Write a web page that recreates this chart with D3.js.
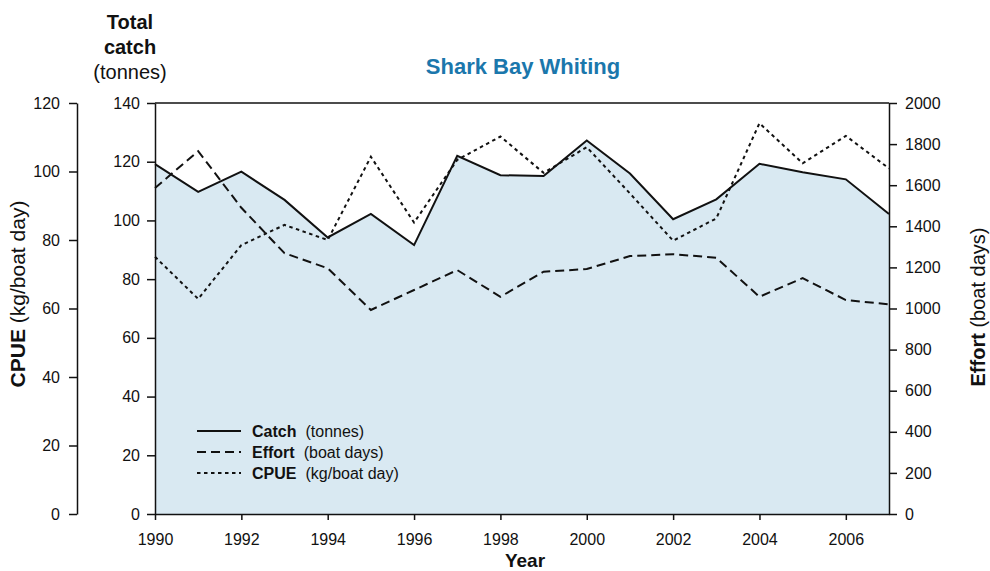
<!DOCTYPE html>
<html>
<head>
<meta charset="utf-8">
<script src="https://cdn.jsdelivr.net/npm/d3@7"></script>
<style>
  body { margin: 0; background: #fff; }
  svg text { font-family: "Liberation Sans", Arial, sans-serif; fill: #111; }
  .axis path, .axis line { stroke: #111; stroke-width: 1.5; }
  .axis text { font-size: 16px; }
  .title { font-family: "Liberation Sans Narrow", "Liberation Sans", sans-serif; font-stretch: condensed; font-weight: bold; font-size: 22px; fill: #1b77ac !important; }
</style>
</head>
<body>
<div id="chart"></div>
<script>
var years = [1990, 1991, 1992, 1993, 1994, 1995, 1996, 1997, 1998, 1999, 2000, 2001, 2002, 2003, 2004, 2005, 2006, 2007];
var catchTonnes = [119.2, 109.7, 116.6, 107, 94.2, 102.2, 91.6, 122, 115.4, 115.1, 127.2, 116, 100.4, 107.2, 119.3, 116.4, 114, 102.2];
var effortDays = [1586, 1766, 1490, 1269, 1196, 993, 1090, 1187, 1057, 1179, 1192, 1255, 1264, 1247, 1057, 1148, 1041, 1020];
var cpue = [75.1, 62.8, 78.5, 84.4, 80.0, 104.3, 85.1, 103.4, 110.2, 99.6, 107.1, 93.6, 79.8, 86.3, 114.1, 102.4, 110.4, 100.9];

var xTicks = [1990, 1992, 1994, 1996, 1998, 2000, 2002, 2004, 2006];
var catchTicks = [0, 20, 40, 60, 80, 100, 120, 140];
var cpueTicks = [0, 20, 40, 60, 80, 100, 120];
var effortTicks = [0, 200, 400, 600, 800, 1000, 1200, 1400, 1600, 1800, 2000];

var legendItems = [
  {name: "Catch", unit: "(tonnes)", dash: null},
  {name: "Effort", unit: "(boat days)", dash: "9,5"},
  {name: "CPUE", unit: "(kg/boat day)", dash: "3.5,3.5"}
];

var margin = {top: 103, right: 101, bottom: 57, left: 155},
  width = 990 - margin.left - margin.right,
  height = 571 - margin.top - margin.bottom;

var data = years.map(function(y, i) {
  return {Year: y, Catch: catchTonnes[i], Effort: effortDays[i], CPUE: cpue[i]};
});

var xScale = d3.scaleLinear().domain([1990, 2007]).range([0, width]);
var yCatch = d3.scaleLinear().domain([0, 140]).range([height, 0]);
var yCpue = d3.scaleLinear().domain([0, 120]).range([height, 0]);
var yEffort = d3.scaleLinear().domain([0, 2000]).range([height, 0]);

var svg = d3.select("#chart").append("svg")
  .attr("width", 990)
  .attr("height", 571);

var g = svg.append("g")
  .attr("transform", "translate(" + margin.left + "," + margin.top + ")");

// area under the catch line
var area = d3.area()
  .x(function(d) { return xScale(d.Year); })
  .y0(height)
  .y1(function(d) { return yCatch(d.Catch); });

g.append("path")
  .datum(data)
  .attr("fill", "#d9e9f2")
  .attr("d", area);

// top border of the frame
g.append("line")
  .attr("x1", 0).attr("x2", width)
  .attr("y1", 0).attr("y2", 0)
  .style("stroke", "#111")
  .style("stroke-width", 1.5);

// x axis
g.append("g")
  .attr("class", "x axis")
  .attr("transform", "translate(0," + height + ")")
  .call(d3.axisBottom(xScale).tickValues(xTicks).tickFormat(d3.format("d")).tickSizeInner(6).tickSizeOuter(0).tickPadding(14));

// catch axis (inner left)
g.append("g")
  .attr("class", "y axis")
  .call(d3.axisLeft(yCatch).tickValues(catchTicks).tickSizeInner(8).tickSizeOuter(0).tickPadding(7));

// effort axis (right)
g.append("g")
  .attr("class", "y axis")
  .attr("transform", "translate(" + width + ",0)")
  .call(d3.axisRight(yEffort).tickValues(effortTicks).tickFormat(d3.format("d")).tickSizeInner(8).tickSizeOuter(0).tickPadding(8));

// cpue axis (outer left)
g.append("g")
  .attr("class", "y axis")
  .attr("transform", "translate(-78,0)")
  .call(d3.axisLeft(yCpue).tickValues(cpueTicks).tickSizeInner(8).tickSizeOuter(0).tickPadding(9));

g.selectAll(".axis .domain").attr("stroke-width", 1.8);

// lines
var catchLine = d3.line()
  .x(function(d) { return xScale(d.Year); })
  .y(function(d) { return yCatch(d.Catch); });

var effortLine = d3.line()
  .x(function(d) { return xScale(d.Year); })
  .y(function(d) { return yEffort(d.Effort); });

var cpueLine = d3.line()
  .x(function(d) { return xScale(d.Year); })
  .y(function(d) { return yCpue(d.CPUE); });

g.append("path")
  .datum(data)
  .attr("fill", "none")
  .attr("stroke", "#111")
  .attr("stroke-width", 2)
  .attr("d", effortLine)
  .attr("stroke-dasharray", "9,5");

g.append("path")
  .datum(data)
  .attr("fill", "none")
  .attr("stroke", "#111")
  .attr("stroke-width", 2)
  .attr("d", cpueLine)
  .attr("stroke-dasharray", "3.5,3.5");

g.append("path")
  .datum(data)
  .attr("fill", "none")
  .attr("stroke", "#111")
  .attr("stroke-width", 2)
  .attr("d", catchLine);

// legend
var legend = g.selectAll(".legend")
  .data(legendItems)
  .enter().append("g")
  .attr("class", "legend")
  .attr("transform", function(d, i) { return "translate(42," + (328 + i * 21) + ")"; });

legend.append("line")
  .attr("x1", 0).attr("x2", 44)
  .attr("y1", 0).attr("y2", 0)
  .attr("stroke", "#111")
  .attr("stroke-width", 2)
  .attr("stroke-dasharray", function(d) { return d.dash; });

var lt = legend.append("text")
  .attr("x", 55)
  .attr("y", 6)
  .style("font-size", "16px");
lt.append("tspan").style("font-weight", "bold").text(function(d) { return d.name; });
lt.append("tspan").attr("dx", 9).text(function(d) { return d.unit; });

// titles
svg.append("text")
  .attr("class", "title")
  .attr("x", 523)
  .attr("y", 74)
  .attr("text-anchor", "middle")
  .text("Shark Bay Whiting");

svg.append("text").attr("x", 130).attr("y", 29).attr("text-anchor", "middle")
  .style("font-size", "20px").style("font-weight", "bold").text("Total");
svg.append("text").attr("x", 130).attr("y", 54).attr("text-anchor", "middle")
  .style("font-size", "20px").style("font-weight", "bold").text("catch");
svg.append("text").attr("x", 130).attr("y", 79).attr("text-anchor", "middle")
  .style("font-size", "20px").text("(tonnes)");

svg.append("text").attr("x", 525).attr("y", 567).attr("text-anchor", "middle")
  .style("font-size", "19px").style("font-weight", "bold").text("Year");

var cpueLabel = svg.append("text")
  .attr("transform", "translate(25,294) rotate(-90)")
  .attr("text-anchor", "middle")
  .style("font-size", "21px");
cpueLabel.append("tspan").style("font-weight", "bold").text("CPUE");
cpueLabel.append("tspan").text(" (kg/boat day)");

var effortLabel = svg.append("text")
  .attr("transform", "translate(985,307) rotate(-90)")
  .attr("text-anchor", "middle")
  .style("font-size", "20px");
effortLabel.append("tspan").style("font-weight", "bold").text("Effort");
effortLabel.append("tspan").text(" (boat days)");
</script>
</body>
</html>
